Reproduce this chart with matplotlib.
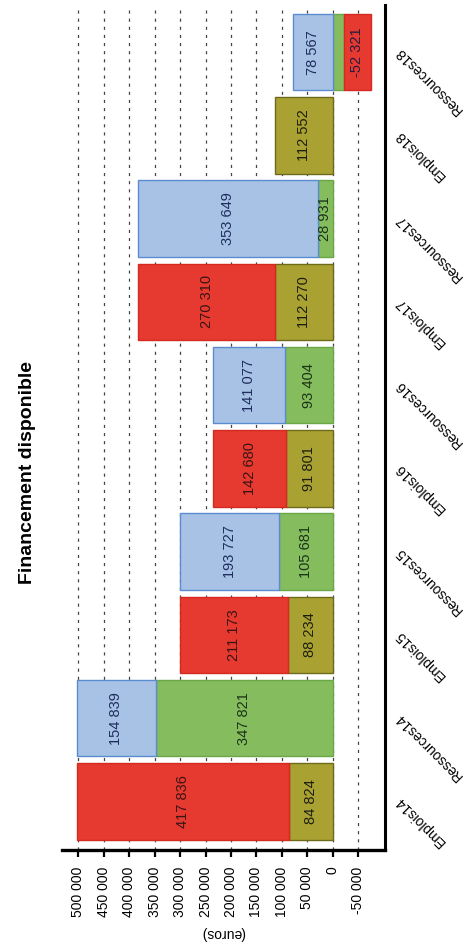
import matplotlib.pyplot as plt

plt.rcParams['font.family'] = ['Liberation Sans', 'DejaVu Sans']

categories = ['Emplois14', 'Ressources14', 'Emplois15', 'Ressources15', 'Emplois16',
              'Ressources16', 'Emplois17', 'Ressources17', 'Emplois18', 'Ressources18']

# Emplois: olive base + red on top
emplois_base = [84824, 88234, 91801, 112270, 112552]
emplois_top = [417836, 211173, 142680, 270310, 0]
# Ressources: green base + blue on top, red stacked below zero
ressources_base = [347821, 105681, 93404, 28931, -22600]
ressources_top = [154839, 193727, 141077, 353649, 78567]
ressources_neg = [0, 0, 0, 0, -52321]

tick_values = list(range(-50000, 500001, 50000))

RED = '#e63a30'
OLIVE = '#a9a232'
GREEN = '#84bc5e'
BLUE = '#a8c2e6'

fig = plt.figure(figsize=(4.63, 9.46), dpi=100)
ax = fig.add_axes([62 / 463, 96 / 946, 323 / 463, 845 / 946])

h = 0.92


def fmt(v):
    return f'{v:,}'.replace(',', ' ')


def segment(y, start, value, face, edge, txt_color):
    if value == 0:
        return
    ax.barh(y, value, left=start, height=h, color=face, edgecolor=edge,
            linewidth=1, zorder=2)
    # very thin slices carry no label
    if abs(value) >= 25000:
        ax.text(start + value / 2, y, fmt(value), rotation=90, ha='center',
                va='center', fontsize=10.5, color=txt_color, zorder=3)


for j in range(5):
    ye = 2 * j
    yr = 2 * j + 1
    segment(ye, 0, emplois_base[j], OLIVE, '#6d6a1c', '#1e1e10')
    segment(ye, emplois_base[j], emplois_top[j], RED, '#d42a22', '#3a1414')

    pos = 0
    neg = 0
    for v, face, edge, tc in [(ressources_base[j], GREEN, '#6aa845', '#1c3418'),
                              (ressources_top[j], BLUE, '#5b8ccf', '#1f2d5c'),
                              (ressources_neg[j], RED, '#d42a22', '#2a1a40')]:
        if v >= 0:
            segment(yr, pos, v, face, edge, tc)
            pos += v
        else:
            segment(yr, neg, v, face, edge, tc)
            neg += v

ax.set_xlim(532480, -103346)
ax.set_ylim(-0.585, 9.567)

ax.set_xticks(tick_values)
ax.set_xticklabels([fmt(v) for v in tick_values], rotation=90, fontsize=10)
ax.tick_params(axis='x', direction='out', length=5, width=1.6, pad=7)
ax.set_yticks([])

ax.grid(axis='x', color='#444444', linestyle=(0, (2.5, 4)), linewidth=0.9)
ax.set_axisbelow(True)

for side in ['left', 'top']:
    ax.spines[side].set_visible(False)
ax.spines['bottom'].set_linewidth(2.4)
ax.spines['right'].set_linewidth(2.2)

for i, name in enumerate(categories):
    ax.annotate(name, xy=(1, i), xycoords=('axes fraction', 'data'),
                xytext=(12, 3), textcoords='offset pixels', rotation=135,
                rotation_mode='anchor', ha='right', va='center', fontsize=10)

fig.text(223 / 463, 1 - 933 / 946, '(euros)', rotation=180, ha='center',
         va='center', fontsize=10)
fig.text(28 / 463, 0.5, 'Financement disponible', rotation=90, ha='center',
         va='center', fontsize=14, fontweight='bold')

fig.savefig('out.png', dpi=100)
